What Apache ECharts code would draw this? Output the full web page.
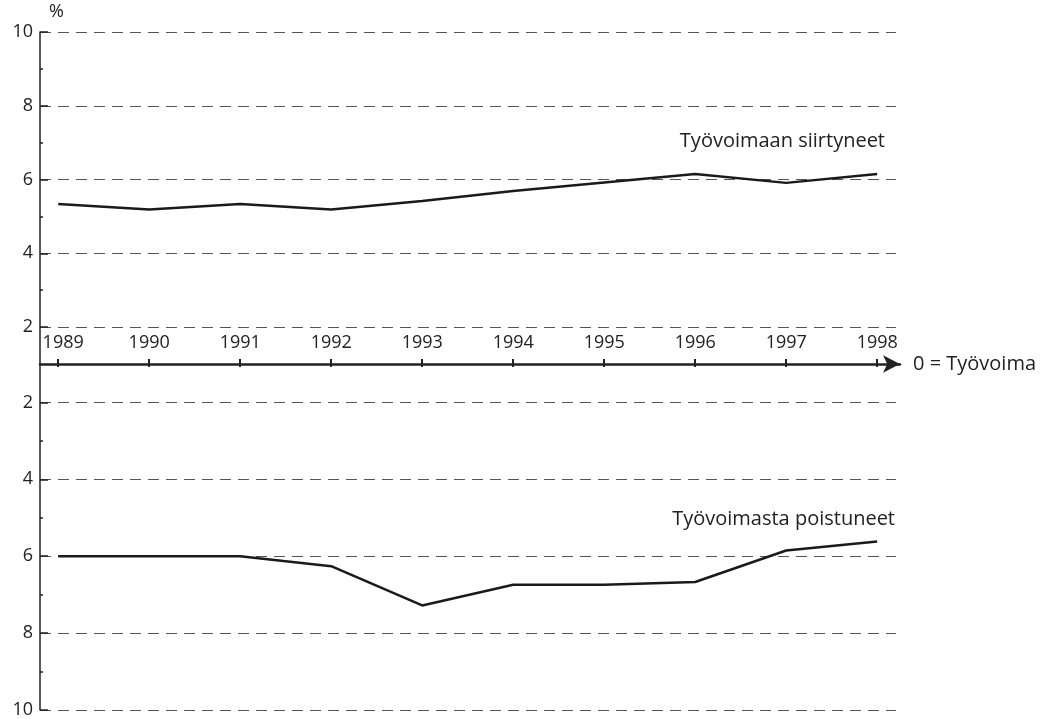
<!DOCTYPE html>
<html>
<head>
<meta charset="utf-8">
<script src="https://cdn.jsdelivr.net/npm/echarts@6/dist/echarts.min.js"></script>
<style>
  html, body { margin: 0; padding: 0; background: #fff; }
  #chart { width: 1050px; height: 719px; }
</style>
</head>
<body>
<div id="chart"></div>
<script>
// data (percent of labour force)
const years = [1989, 1990, 1991, 1992, 1993, 1994, 1995, 1996, 1997, 1998];
const entered = [5.34, 5.19, 5.34, 5.19, 5.42, 5.69, 5.92, 6.15, 5.91, 6.15]; // Työvoimaan siirtyneet
const exited = [6.0, 6.0, 6.0, 6.26, 7.28, 6.74, 6.74, 6.67, 5.85, 5.62];      // Työvoimasta poistuneet
const majorTicks = [2, 4, 6, 8, 10];
const minorTicks = [3, 5, 7, 9];

const FONT = '"Open Sans", "Noto Sans", sans-serif';
const INK = '#222';

const chart = echarts.init(document.getElementById('chart'));

// x scale: ~91px per year, 1989 sits a bit right of the y axis
const xMin = 1988.8;
const xMaxPlot = 1998.207;
const xMaxArrow = 1998.25;

function hiddenX(gridIndex, max) {
  return { type: 'value', gridIndex, min: xMin, max, show: false };
}

function yMain(gridIndex, inverse) {
  return {
    type: 'value', gridIndex, min: 1, max: 10, inverse, position: 'left',
    axisLine: { show: true, lineStyle: { color: INK, width: 1.5 } },
    axisTick: { show: true, inside: true, length: 8, customValues: majorTicks, lineStyle: { color: INK, width: 1.5 } },
    axisLabel: { customValues: majorTicks, fontSize: 18, fontFamily: FONT, color: INK, margin: 7 },
    splitLine: { show: true, lineStyle: { color: '#555', width: 1, type: [11, 7] } }
  };
}

function yMinor(gridIndex, inverse) {
  return {
    type: 'value', gridIndex, min: 1, max: 10, inverse, position: 'left',
    axisLine: { show: false },
    axisTick: { show: true, inside: true, length: 3, customValues: minorTicks, lineStyle: { color: INK, width: 1.5 } },
    axisLabel: { show: false },
    splitLine: { show: false }
  };
}

const option = {
  backgroundColor: '#fff',
  animation: false,
  grid: [
    { left: 40, top: 32, width: 856, height: 332 },
    { left: 40, top: 364, width: 856, height: 351 },
    { left: 40, top: 300, width: 860, height: 64 }
  ],
  xAxis: [
    hiddenX(0, xMaxPlot),
    hiddenX(1, xMaxPlot),
    {
      type: 'value', gridIndex: 2, min: xMin, max: xMaxArrow, position: 'bottom',
      name: '0 = Työvoima', nameLocation: 'end', nameGap: 13,
      nameTextStyle: { fontSize: 20, fontFamily: FONT, color: INK },
      axisLine: { show: true, symbol: ['none', 'arrow'], symbolSize: [13, 17], lineStyle: { color: INK, width: 2.5 } },
      axisTick: { show: true, inside: true, length: 5, customValues: years, lineStyle: { color: INK, width: 2 } },
      axisLabel: {
        inside: true, margin: 12, customValues: years,
        // first label is nudged right off the y axis, as in the original
        formatter: v => (v === years[0] ? '{first|' + v + '}' : String(v)),
        rich: { first: { padding: [0, 0, 0, 10], fontSize: 18, fontFamily: FONT, color: INK } },
        fontSize: 18, fontFamily: FONT, color: INK
      },
      splitLine: { show: false }
    },
    {
      type: 'value', gridIndex: 2, min: xMin, max: xMaxArrow, position: 'bottom',
      axisLine: { show: false },
      axisTick: { show: true, inside: false, length: 3, customValues: years, lineStyle: { color: INK, width: 2 } },
      axisLabel: { show: false },
      splitLine: { show: false }
    }
  ],
  yAxis: [
    yMain(0, false), yMinor(0, false),
    yMain(1, true), yMinor(1, true),
    { type: 'value', gridIndex: 2, min: 0, max: 1, show: false }
  ],
  graphic: [
    { type: 'text', left: 49, top: 3, style: { text: '%', font: '18px ' + FONT, fill: INK } },
    { type: 'text', right: 165, top: 131, style: { text: 'Työvoimaan siirtyneet', font: '20px ' + FONT, fill: INK } },
    { type: 'text', right: 155, top: 509, style: { text: 'Työvoimasta poistuneet', font: '20px ' + FONT, fill: INK } }
  ],
  series: [
    {
      name: 'Työvoimaan siirtyneet', type: 'line', xAxisIndex: 0, yAxisIndex: 0,
      data: years.map((y, i) => [y, entered[i]]),
      showSymbol: false, lineStyle: { color: '#1a1a1a', width: 2.5 }
    },
    {
      name: 'Työvoimasta poistuneet', type: 'line', xAxisIndex: 1, yAxisIndex: 2,
      data: years.map((y, i) => [y, exited[i]]),
      showSymbol: false, lineStyle: { color: '#1a1a1a', width: 2.5 }
    }
  ]
};

chart.setOption(option);
</script>
</body>
</html>
